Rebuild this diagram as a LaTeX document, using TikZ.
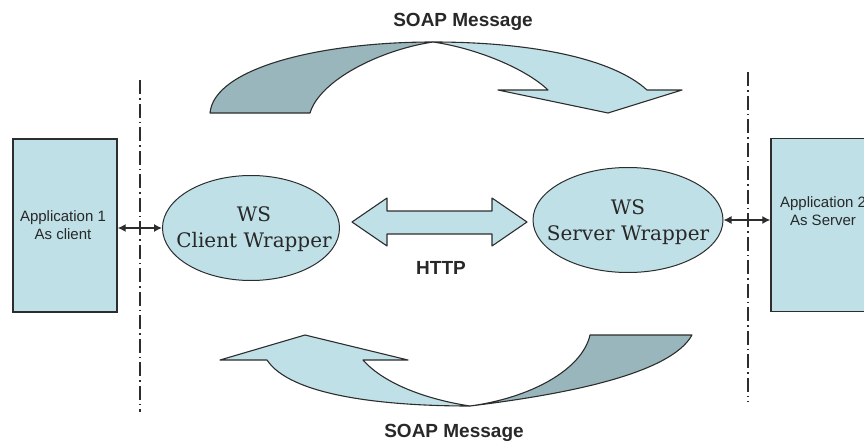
\documentclass[tikz,border=0pt]{standalone}
\usepackage{fontspec}
\setmainfont{Liberation Sans}
\newfontfamily\wsfont{DejaVu Serif}
\usetikzlibrary{shapes.geometric,arrows.meta}
\definecolor{lightfill}{RGB}{191,224,231}
\definecolor{darkfill}{RGB}{152,182,188}
\definecolor{edge}{RGB}{45,45,45}
\definecolor{txt}{RGB}{40,40,40}
\tikzset{
  appbox/.style={draw=edge,line width=1.4pt,fill=lightfill,minimum width=104pt,minimum height=173pt,inner sep=0pt},
  apptext/.style={font=\fontsize{15}{18.5}\selectfont,text=txt,align=center,inner sep=0pt},
  wrapper/.style={ellipse,draw=edge,line width=1pt,fill=lightfill,inner sep=0pt},
  wrappertext/.style={font=\wsfont\fontsize{20}{26}\selectfont,text=txt,align=center,inner sep=0pt},
  label/.style={font=\bfseries\fontsize{19}{22}\selectfont,text=txt,inner sep=0pt},
  ribbon/.style={draw=edge,line width=1.1pt,line join=round},
  divider/.style={draw=edge,line width=1.3pt,dash pattern=on 14pt off 4pt on 1.5pt off 4pt},
  link/.style={line width=1.3pt,draw=edge,{Latex[length=8pt,width=8pt]}-{Latex[length=8pt,width=8pt]}}
}
\begin{document}
\begin{tikzpicture}[x=1pt,y=-1pt]
\useasboundingbox (0,0) rectangle (864,444);
% dividers
\coordinate (dl1) at (140,80);
\coordinate (dl2) at (140,412);
\coordinate (dr1) at (748,72);
\coordinate (dr2) at (748,402);
\draw[divider] (dl1) -- (dl2);
\draw[divider] (dr1) -- (dr2);
% application boxes
\node[appbox] (app1) at (65,225.5) {};
\node[apptext] (app1t) at (63,225) {Application 1\\As client};
\node[appbox] (app2) at (823,225) {};
\node[apptext] (app2t) at (823,211) {Application 2\\As Server};
% wrappers
\node[wrapper,minimum width=177pt,minimum height=105pt] (client) at (251,228) {};
\node[wrappertext] (clientt) at (254,229) {WS\\Client Wrapper};
\node[wrapper,minimum width=190pt,minimum height=105pt] (server) at (628,220) {};
\node[wrappertext] (servert) at (628,222) {WS\\Server Wrapper};
% small links
\draw[link] (app1.east |- client.west) -- (client.west);
\draw[link] (server.east) -- (server.east -| app2.west);
% HTTP double arrow
\draw[ribbon,fill=lightfill] (352,222) -- (387,198) -- (387,211) -- (492,211) -- (492,198) -- (527,222)
  -- (492,246) -- (492,234) -- (387,234) -- (387,246) -- cycle;
\node[label] (http) at (441,268) {HTTP};
% top SOAP arrow
\draw[ribbon,fill=darkfill] (210,113) .. controls (214,68) and (320,42) .. (433,42)
  .. controls (380,50) and (320,80) .. (310,113) -- cycle;
\draw[ribbon,fill=lightfill] (433,42) .. controls (530,42) and (612,58) .. (647,90)
  -- (682,90) -- (608,113) -- (498,90) -- (548,90)
  .. controls (525,68) and (475,48) .. (433,42) -- cycle;
\node[label] (soaptop) at (463,22) {SOAP Message};
% bottom SOAP arrow
\draw[ribbon,fill=darkfill] (470,406) .. controls (560,395) and (670,375) .. (692,335)
  -- (590,335) .. controls (582,370) and (530,398) .. (470,406) -- cycle;
\draw[ribbon,fill=lightfill] (267,360) .. controls (290,395) and (380,406) .. (470,406)
  .. controls (430,400) and (385,385) .. (363,360)
  -- (408,360) -- (305,335) -- (220,360) -- cycle;
\node[label] (soapbot) at (454,433) {SOAP Message};
\end{tikzpicture}
\end{document}
